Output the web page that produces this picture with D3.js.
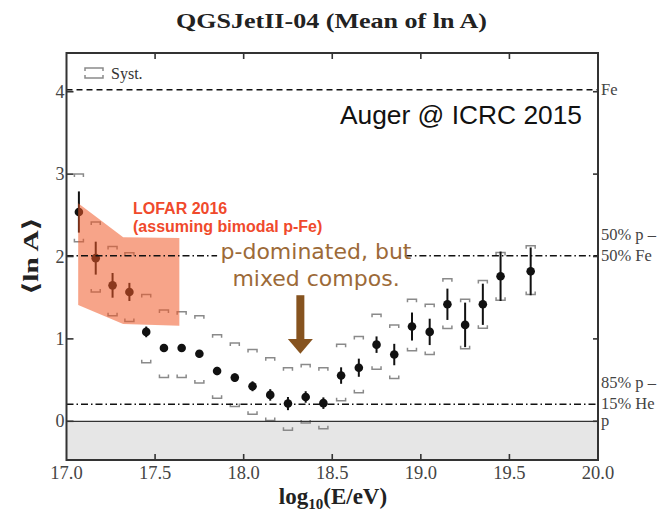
<html lang="en">
<head>
	<title>QGSJetII-04 mean ln A</title>
	<script src="https://d3js.org/d3.v7.min.js" charset="utf-8"></script>
	<style>
		body { margin: 0; background: #fff; }
	</style>
</head>
<body>
	<script>
	// Auger <ln A> points
	var energy   = [17.07,17.165,17.26,17.355,17.45,17.55,17.65,17.75,17.85,17.95,18.05,18.15,18.25,18.35,18.45,18.55,18.65,18.75,18.85,18.95,19.05,19.15,19.25,19.35,19.45,19.62];
	var meanLnA  = [2.54,1.98,1.65,1.57,1.085,0.89,0.89,0.82,0.61,0.53,0.425,0.32,0.215,0.295,0.22,0.555,0.65,0.93,0.81,1.15,1.085,1.42,1.17,1.42,1.76,1.82];
	var statErr  = [0.25,0.2,0.15,0.11,0.065,0.045,0.04,0.045,0.05,0.05,0.06,0.07,0.08,0.07,0.07,0.1,0.11,0.1,0.13,0.17,0.16,0.19,0.27,0.25,0.3,0.29];
	var systUp   = [3.0,2.42,2.12,2.045,1.54,1.35,1.33,1.28,1.05,0.95,0.87,0.77,0.65,0.69,0.65,0.935,1.03,1.3,1.17,1.48,1.42,1.73,1.48,1.71,2.05,2.13];
	var systLow  = [2.18,1.57,1.28,1.21,0.71,0.53,0.53,0.465,0.28,0.18,0.085,0.01,-0.11,-0.02,-0.09,0.25,0.345,0.63,0.52,0.855,0.81,1.125,0.88,1.13,1.47,1.54];

	// LOFAR 2016 band
	var lofarE   = [17.066,17.32,17.637];
	var lofarUp  = [2.645,2.235,2.225];
	var lofarLow = [1.41,1.18,1.16];

	// reference compositions
	var refLines = [
		{v: 4.025, dash: "6,4", labels: ["Fe"]},
		{v: 2.01, dash: "7,3,1.5,3", labels: ["50% p \u2013", "50% Fe"]},
		{v: 0.208, dash: "7,3,1.5,3", labels: ["85% p \u2013", "15% He"]},
		{v: 0, dash: null, labels: ["p"]}
	];

	var xTicks = [17.0,17.5,18.0,18.5,19.0,19.5,20.0];
	var yTicks = [0,1,2,3,4];

	var W = 669, H = 512;
	var pL = 66.5, pR = 598, pT = 53, pB = 460;

	var x = d3.scaleLinear().domain([17, 20]).range([pL, pR]);
	var y = d3.scaleLinear().domain([-0.47, 4.47]).range([pB, pT]);

	var svg = d3.select("body").append("svg")
		.attr("width", W)
		.attr("height", H);

	var serif = "'Liberation Serif', 'DejaVu Serif', serif";
	var sans = "'Liberation Sans', Arial, sans-serif";

	// grey region below ln A = 0
	svg.append("rect")
		.attr("x", pL).attr("y", y(0))
		.attr("width", pR - pL).attr("height", pB - y(0))
		.attr("fill", "#e6e6e6");

	// systematic brackets
	var bw = 4.5, bt = 3;
	var data = energy.map(function(e, i) {
		return {e: e, v: meanLnA[i], s: statErr[i], up: systUp[i], lo: systLow[i]};
	});
	var syst = svg.append("g").attr("fill", "none").attr("stroke", "#8a8a8a").attr("stroke-width", 1.5);
	syst.selectAll("path.up").data(data).enter().append("path")
		.attr("d", function(d) {
			var cx = x(d.e), cy = y(d.up);
			return "M" + (cx - bw) + "," + (cy + bt) + "V" + cy + "H" + (cx + bw) + "V" + (cy + bt);
		});
	syst.selectAll("path.lo").data(data).enter().append("path")
		.attr("d", function(d) {
			var cx = x(d.e), cy = y(d.lo);
			return "M" + (cx - bw) + "," + (cy - bt) + "V" + cy + "H" + (cx + bw) + "V" + (cy - bt);
		});

	// stat errors and points
	svg.selectAll("line.err").data(data).enter().append("line")
		.attr("x1", function(d) { return x(d.e); })
		.attr("x2", function(d) { return x(d.e); })
		.attr("y1", function(d) { return y(d.v + d.s); })
		.attr("y2", function(d) { return y(d.v - d.s); })
		.attr("stroke", "#111").attr("stroke-width", 2);
	svg.selectAll("circle.pt").data(data).enter().append("circle")
		.attr("cx", function(d) { return x(d.e); })
		.attr("cy", function(d) { return y(d.v); })
		.attr("r", 4.3)
		.attr("fill", "#111");

	// LOFAR band on top
	var band = lofarE.map(function(e, i) { return {e: e, up: lofarUp[i], lo: lofarLow[i]}; });
	svg.append("path")
		.datum(band)
		.attr("d", d3.area().x(function(d) { return x(d.e); }).y0(function(d) { return y(d.lo); }).y1(function(d) { return y(d.up); }))
		.attr("fill", "#f05a28")
		.attr("fill-opacity", 0.55);

	// reference lines
	refLines.forEach(function(r) {
		var segs = [[17, 20]];
		if (r.v === 2.01) segs = [[17, 17.85], [18.91, 20]]; // gap behind the annotation
		segs.forEach(function(s) {
			svg.append("line")
				.attr("x1", x(s[0])).attr("x2", x(s[1]))
				.attr("y1", y(r.v)).attr("y2", y(r.v))
				.attr("stroke", r.v === 0 ? "#333" : "#111")
				.attr("stroke-width", r.v === 0 ? 1.3 : 1.5)
				.attr("stroke-dasharray", r.dash);
		});
		var n = r.labels.length;
		r.labels.forEach(function(t, j) {
			svg.append("text")
				.attr("x", pR + 3)
				.attr("y", y(r.v) + 5 - (n - 1 - j) * 21)
				.attr("font-family", serif)
				.attr("font-size", 16.5)
				.attr("fill", "#444")
				.text(t);
		});
	});

	// frame
	svg.append("rect")
		.attr("x", pL).attr("y", pT)
		.attr("width", pR - pL).attr("height", pB - pT)
		.attr("fill", "none").attr("stroke", "#333").attr("stroke-width", 2);

	// ticks (inward)
	var tk = svg.append("g").attr("stroke", "#333").attr("stroke-width", 1.6);
	xTicks.slice(1, -1).forEach(function(t) {
		tk.append("line").attr("x1", x(t)).attr("x2", x(t)).attr("y1", pT).attr("y2", pT + 6);
		tk.append("line").attr("x1", x(t)).attr("x2", x(t)).attr("y1", pB).attr("y2", pB - 6);
	});
	yTicks.forEach(function(t) {
		tk.append("line").attr("x1", pL).attr("x2", pL + 7).attr("y1", y(t)).attr("y2", y(t));
		tk.append("line").attr("x1", pR).attr("x2", pR - 5).attr("y1", y(t)).attr("y2", y(t));
	});

	// tick labels
	svg.selectAll("text.xt").data(xTicks).enter().append("text")
		.attr("x", function(d) { return x(d); })
		.attr("y", 479)
		.attr("text-anchor", "middle")
		.attr("font-family", serif).attr("font-size", 18.5).attr("fill", "#444")
		.text(function(d) { return d3.format(".1f")(d); });
	svg.selectAll("text.yt").data(yTicks).enter().append("text")
		.attr("x", pL - 2)
		.attr("y", function(d) { return y(d) + 6; })
		.attr("text-anchor", "end")
		.attr("font-family", serif).attr("font-size", 18).attr("fill", "#444")
		.text(function(d) { return d; });

	// titles
	svg.append("text")
		.attr("x", 176).attr("y", 28)
		.attr("textLength", 311).attr("lengthAdjust", "spacingAndGlyphs")
		.attr("font-family", serif).attr("font-weight", "bold").attr("font-size", 22).attr("fill", "#222")
		.text("QGSJetII-04 (Mean of ln  A)");
	var xt = svg.append("text")
		.attr("x", 333).attr("y", 504)
		.attr("text-anchor", "middle")
		.attr("font-family", serif).attr("font-weight", "bold").attr("font-size", 23).attr("fill", "#222");
	xt.append("tspan").text("log");
	xt.append("tspan").attr("font-size", 15).attr("dy", 5).text("10");
	xt.append("tspan").attr("dy", -5).text("(E/eV)");
	svg.append("text")
		.attr("transform", "translate(38,256) rotate(-90)")
		.attr("x", -39)
		.attr("textLength", 78).attr("lengthAdjust", "spacingAndGlyphs")
		.attr("font-family", serif).attr("font-weight", "bold").attr("font-size", 22).attr("fill", "#222")
		.text("\u27E8ln A\u27E9");

	// Syst. legend
	var lg = svg.append("g").attr("fill", "none").attr("stroke", "#8a8a8a").attr("stroke-width", 1.5);
	lg.append("path").attr("d", "M85,71V68H103V71");
	lg.append("path").attr("d", "M85,75V78H103V75");
	svg.append("text")
		.attr("x", 111).attr("y", 79)
		.attr("font-family", serif).attr("font-size", 16).attr("fill", "#333")
		.text("Syst.");

	// annotations
	svg.append("text")
		.attr("x", 340).attr("y", 124)
		.attr("textLength", 242).attr("lengthAdjust", "spacingAndGlyphs")
		.attr("font-family", sans).attr("font-size", 25).attr("fill", "#111")
		.text("Auger @ ICRC 2015");

	svg.append("text")
		.attr("x", 133).attr("y", 214)
		.attr("font-family", sans).attr("font-weight", "bold").attr("font-size", 16).attr("fill", "#f04a2c")
		.text("LOFAR 2016");
	svg.append("text")
		.attr("x", 133).attr("y", 232)
		.attr("font-family", sans).attr("font-weight", "bold").attr("font-size", 16).attr("fill", "#f04a2c")
		.text("(assuming bimodal p-Fe)");

	svg.append("text")
		.attr("x", 316).attr("y", 259)
		.attr("text-anchor", "middle")
		.attr("font-family", "'DejaVu Sans', sans-serif").attr("font-size", 22).attr("fill", "#9c6a38")
		.text("p-dominated, but");
	svg.append("text")
		.attr("x", 316).attr("y", 286)
		.attr("text-anchor", "middle")
		.attr("font-family", "'DejaVu Sans', sans-serif").attr("font-size", 22).attr("fill", "#9c6a38")
		.text("mixed compos.");

	// arrow
	var ax = x(18.32);
	svg.append("rect")
		.attr("x", ax - 4).attr("y", y(1.53))
		.attr("width", 8).attr("height", y(0.98) - y(1.53))
		.attr("fill", "#86531f");
	svg.append("path")
		.attr("d", "M" + (ax - 12.5) + "," + y(1.0) + "L" + (ax + 12.5) + "," + y(1.0) + "L" + ax + "," + y(0.82) + "Z")
		.attr("fill", "#86531f");
	</script>
</body>
</html>
